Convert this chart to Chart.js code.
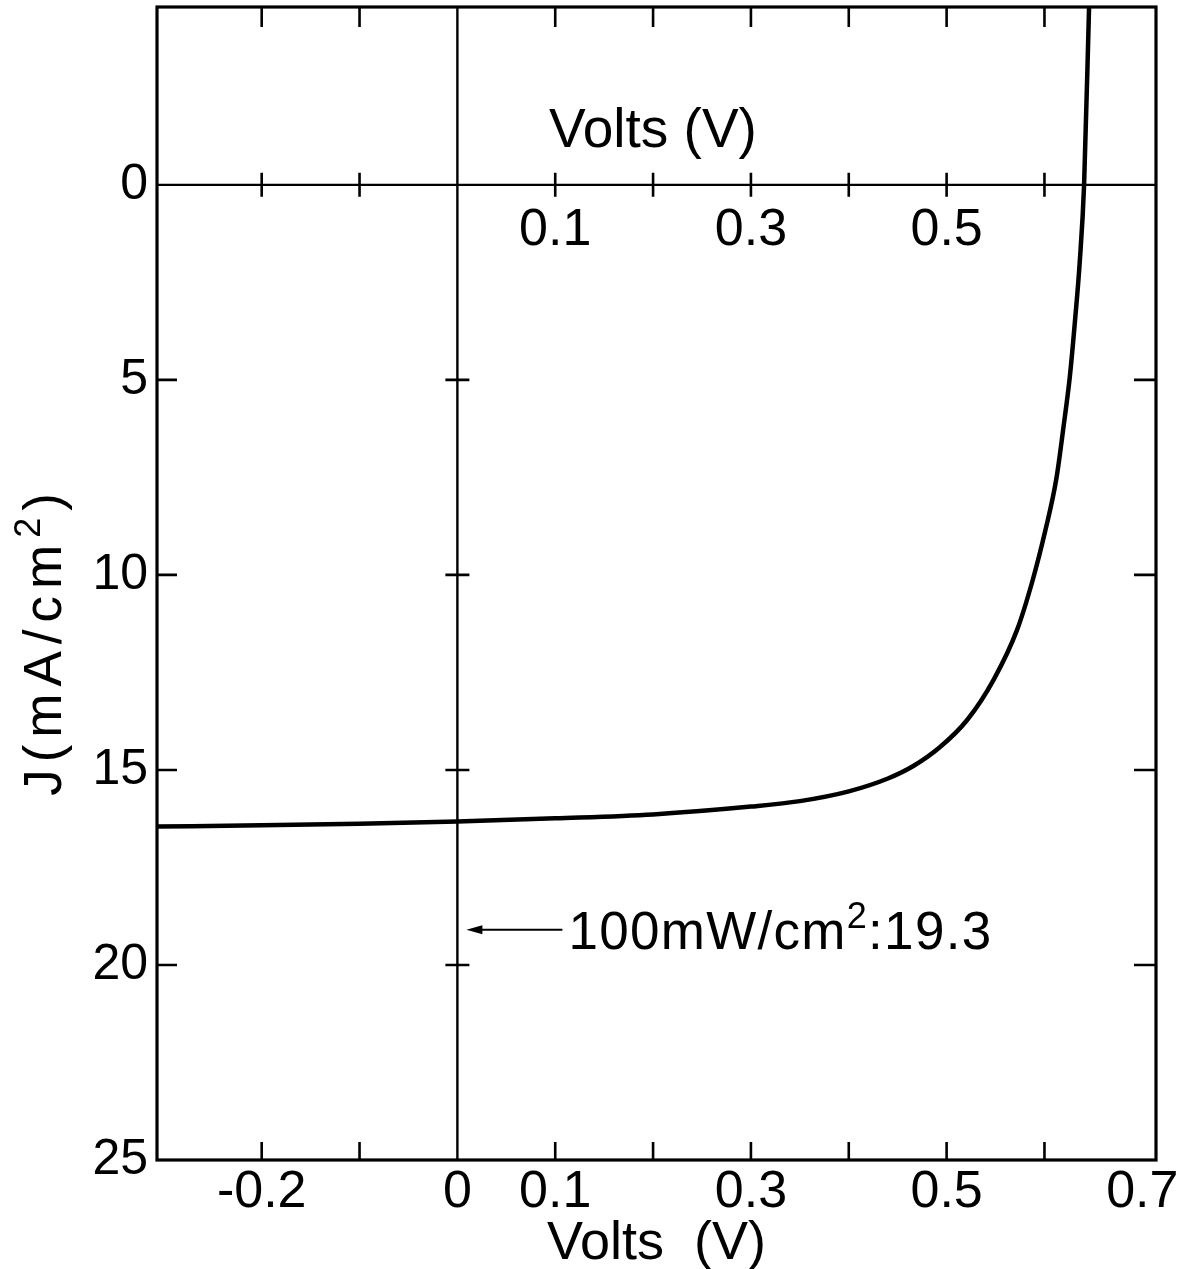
<!DOCTYPE html>
<html>
<head>
<meta charset="utf-8">
<script src="https://cdn.jsdelivr.net/npm/chart.js@4.4.1/dist/chart.umd.min.js"></script>
<style>
  html, body { margin: 0; padding: 0; background: #fff; }
  #wrap { width: 1187px; height: 1269px; }
</style>
</head>
<body>
<div id="wrap"><canvas id="ivChart" width="1187" height="1269"></canvas></div>
<script>
// J-V curve
const voltage = [-0.307, -0.2, -0.1, 0, 0.1, 0.2, 0.3, 0.35, 0.4, 0.44, 0.466, 0.493, 0.521, 0.548, 0.572, 0.588, 0.601, 0.612, 0.6195, 0.626, 0.6315, 0.636, 0.6405, 0.6456];
const currentDensity = [16.45, 16.42, 16.38, 16.32, 16.24, 16.14, 15.94, 15.8, 15.55, 15.22, 14.9, 14.42, 13.72, 12.69, 11.41, 10.13, 8.85, 7.56, 6.2, 4.9, 3.4, 2.0, 0, -4.56];

const xLabelTicks = [-0.2, 0, 0.1, 0.3, 0.5, 0.7];
const xMinorTicks = [-0.2, -0.1, 0.1, 0.2, 0.3, 0.4, 0.5, 0.6];
const topLabelTicks = [0.1, 0.3, 0.5];
const yLabelTicks = [0, 5, 10, 15, 20, 25];
const yMinorTicks = [5, 10, 15, 20];

const annotationText = ['100mW/cm', '2', ':19.3'];
const annotationJ = 19.1;

const FONT = "'Liberation Sans', Arial, Helvetica, sans-serif";

// draws a run of text pieces, odd ones as superscript
function drawSuperText(ctx, parts, x, y, size, spacing) {
    ctx.letterSpacing = spacing + 'px';
    ctx.textAlign = 'left';
    ctx.textBaseline = 'alphabetic';
    let cx = x;
    parts.forEach((p, i) => {
        const sup = i % 2 === 1;
        ctx.font = (sup ? Math.round(size * 0.68) : size) + 'px ' + FONT;
        ctx.fillText(p, cx, sup ? y - size * 0.4 : y);
        cx += ctx.measureText(p).width;
    });
    ctx.letterSpacing = '0px';
    return cx - x;
}

const framePlugin = {
    id: 'framePlugin',
    beforeDraw(chart) {
        const ctx = chart.ctx;
        ctx.save();
        ctx.fillStyle = '#fff';
        ctx.fillRect(0, 0, chart.width, chart.height);
        ctx.restore();
    },
    beforeDatasetsDraw(chart) {
        const { ctx, chartArea: ca, scales: { x, y } } = chart;
        const x0 = x.getPixelForValue(0);
        const y0 = y.getPixelForValue(0);
        ctx.save();
        ctx.strokeStyle = '#000';
        ctx.lineCap = 'butt';

        // zero lines
        ctx.lineWidth = 2.4;
        ctx.beginPath();
        ctx.moveTo(ca.left, y0); ctx.lineTo(ca.right, y0);
        ctx.moveTo(x0, ca.top); ctx.lineTo(x0, ca.bottom);
        ctx.stroke();

        // tick marks
        ctx.lineWidth = 2.6;
        ctx.beginPath();
        xMinorTicks.forEach(v => {
            const px = x.getPixelForValue(v);
            ctx.moveTo(px, ca.top); ctx.lineTo(px, ca.top + 20);
            ctx.moveTo(px, y0 - 12); ctx.lineTo(px, y0 + 12);
            ctx.moveTo(px, ca.bottom); ctx.lineTo(px, ca.bottom - 18);
        });
        yMinorTicks.forEach(v => {
            const py = y.getPixelForValue(v);
            ctx.moveTo(ca.left, py); ctx.lineTo(ca.left + 20, py);
            ctx.moveTo(ca.right, py); ctx.lineTo(ca.right - 22, py);
            ctx.moveTo(x0 - 12, py); ctx.lineTo(x0 + 12, py);
        });
        ctx.stroke();

        // frame
        ctx.lineWidth = 3.2;
        ctx.strokeRect(ca.left, ca.top, ca.right - ca.left, ca.bottom - ca.top);
        ctx.restore();
    },
    afterDraw(chart) {
        const { ctx, scales: { x, y } } = chart;
        const x0 = x.getPixelForValue(0);
        const y0 = y.getPixelForValue(0);
        ctx.save();
        ctx.fillStyle = '#000';
        ctx.strokeStyle = '#000';

        // upper axis labels
        ctx.font = '52px ' + FONT;
        ctx.textAlign = 'center';
        ctx.textBaseline = 'alphabetic';
        topLabelTicks.forEach(v => {
            ctx.fillText(String(v), x.getPixelForValue(v), y0 + 60);
        });
        ctx.font = '55px ' + FONT;
        ctx.fillText('Volts (V)', 653, y0 - 38);

        // annotation arrow + text
        const ay = y.getPixelForValue(annotationJ);
        const tip = x0 + 9;
        ctx.lineWidth = 2;
        ctx.beginPath();
        ctx.moveTo(tip + 10, ay); ctx.lineTo(x0 + 105, ay);
        ctx.stroke();
        ctx.beginPath();
        ctx.moveTo(tip, ay);
        ctx.lineTo(tip + 16, ay - 4.5);
        ctx.lineTo(tip + 16, ay + 4.5);
        ctx.closePath();
        ctx.fill();
        drawSuperText(ctx, annotationText, x0 + 111, ay + 19, 53, 1.3);

        // y axis title
        const yTitle = ['J(mA/cm', '2', ')'];
        ctx.translate(42, 641);
        ctx.rotate(-Math.PI / 2);
        ctx.save();
        ctx.globalAlpha = 0;
        const w = drawSuperText(ctx, yTitle, 0, 0, 53, 7);
        ctx.restore();
        drawSuperText(ctx, yTitle, -w / 2, 19, 53, 7);
        ctx.restore();
    }
};

new Chart(document.getElementById('ivChart'), {
    type: 'scatter',
    data: {
        datasets: [{
            label: 'J',
            data: voltage.map((v, i) => ({ x: v, y: currentDensity[i] })),
            showLine: true,
            borderColor: '#000',
            borderWidth: 4.5,
            pointRadius: 0,
            cubicInterpolationMode: 'monotone',
            fill: false
        }]
    },
    options: {
        responsive: false,
        animation: false,
        devicePixelRatio: 1,
        layout: { padding: { top: 7, right: 31, left: 0, bottom: 0 } },
        plugins: {
            legend: { display: false },
            tooltip: { enabled: false }
        },
        scales: {
            x: {
                type: 'linear',
                min: -0.307,
                max: 0.714,
                grid: { display: false, drawTicks: false },
                border: { display: false },
                afterBuildTicks: scale => { scale.ticks = xLabelTicks.map(v => ({ value: v })); },
                afterFit: scale => {
                    scale.height = 109;
                    scale.paddingLeft = 0;
                    scale.paddingRight = 0;
                },
                ticks: {
                    autoSkip: false,
                    maxRotation: 0,
                    color: '#000',
                    padding: 1,
                    font: { family: FONT, size: 52 },
                    callback: v => String(v)
                },
                title: {
                    display: true,
                    text: 'Volts  (V)',
                    color: '#000',
                    font: { family: FONT, size: 54, lineHeight: 0.85 },
                    padding: { top: 0, bottom: 2 }
                }
            },
            y: {
                type: 'linear',
                reverse: true,
                min: -4.56,
                max: 25,
                grid: { display: false, drawTicks: false },
                border: { display: false },
                afterBuildTicks: scale => { scale.ticks = yLabelTicks.map(v => ({ value: v })); },
                afterFit: scale => {
                    scale.width = 157;
                    scale.paddingTop = 0;
                    scale.paddingBottom = 0;
                },
                ticks: {
                    autoSkip: false,
                    color: '#000',
                    padding: 9,
                    font: { family: FONT, size: 50 },
                    callback: v => String(v)
                }
            }
        }
    },
    plugins: [framePlugin]
});
</script>
</body>
</html>
